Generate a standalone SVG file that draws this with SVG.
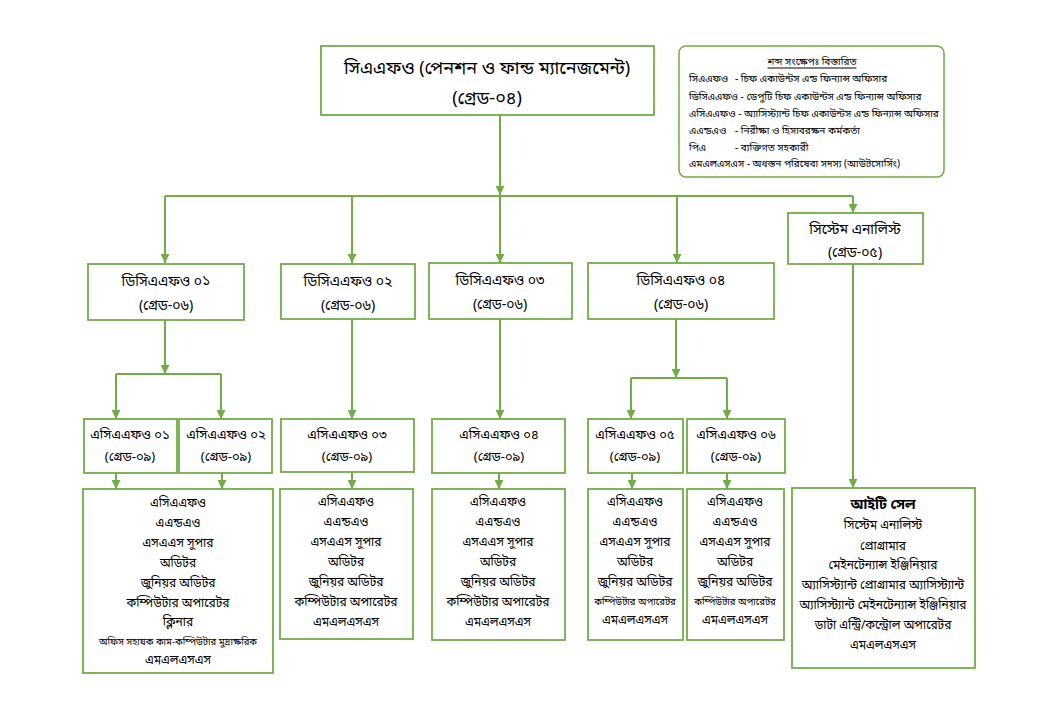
<svg xmlns="http://www.w3.org/2000/svg" width="1045" height="716" viewBox="0 0 1045 716">
<defs>
<marker id="ah" viewBox="0 0 10 10" refX="10" refY="5" markerWidth="9" markerHeight="9" markerUnits="userSpaceOnUse" orient="auto">
<path d="M0,0 L10,5 L0,10 z" fill="#70AD47"/>
</marker>
<style>
.box{fill:#fff;stroke:#70AD47;stroke-width:1.8}
.c{fill:none;stroke:#70AD47;stroke-width:2}
.a{marker-end:url(#ah)}
text{font-family:"Noto Sans Bengali","Noto Serif Bengali","Lohit Bengali","Mukti","Vrinda",sans-serif;fill:#000;text-anchor:middle;dominant-baseline:central}
.t1{font-size:18px}
.t2{font-size:14px}
.t3{font-size:13px}
.t4{font-size:12px}
.sm{font-size:9.5px}
.lg{font-size:10px;text-anchor:start}
.b{font-weight:bold;font-size:14px}
</style>
</defs>
<rect width="1045" height="716" fill="#fff"/>
<g id="connectors">
<path class="c a" d="M500,115 V195"/>
<path class="c" d="M165,196 H853"/>
<path class="c a" d="M165,196 V263"/>
<path class="c a" d="M352,196 V263"/>
<path class="c a" d="M500,196 V263"/>
<path class="c a" d="M677,196 V263"/>
<path class="c a" d="M853,196 V213"/>
<path class="c a" d="M165,320 V374"/>
<path class="c" d="M116,374 H221"/>
<path class="c a" d="M116,374 V419"/>
<path class="c a" d="M221,374 V419"/>
<path class="c a" d="M352,319 V419"/>
<path class="c a" d="M500,319 V419"/>
<path class="c a" d="M676,319 V378"/>
<path class="c" d="M631,378 H727"/>
<path class="c a" d="M631,378 V419"/>
<path class="c a" d="M727,378 V419"/>
<path class="c a" d="M853,264 V488"/>
<path class="c a" d="M116,473 V489"/>
<path class="c a" d="M222,473 V489"/>
<path class="c a" d="M352,472 V489"/>
<path class="c a" d="M499,473 V489"/>
<path class="c a" d="M632,473 V489"/>
<path class="c a" d="M727,473 V489"/>
</g>
<g id="cafo">
<rect class="box" x="321" y="46" width="333" height="69"/>
<text class="t1" x="487" y="69">সিএএফও (পেনশন ও ফান্ড ম্যানেজমেন্ট)</text>
<text class="t1" x="487" y="99">(গ্রেড-০৪)</text>
</g>
<g id="legend">
<rect x="679" y="46" width="265" height="131" rx="7" fill="#fff" stroke="#70AD47" stroke-width="1.5"/>
<text class="lg" x="812" y="62" style="text-anchor:middle;text-decoration:underline">শব্দ সংক্ষেপঃ বিস্তারিত</text>
<text class="lg" x="689" y="79">সিএএফও</text>
<text class="lg" x="735" y="79">- চিফ একাউন্টস এন্ড ফিন্যান্স অফিসার</text>
<text class="lg" x="689" y="97">ডিসিএএফও - ডেপুটি চিফ একাউন্টস এন্ড ফিন্যান্স অফিসার</text>
<text class="lg" x="689" y="114">এসিএএফও - অ্যাসিস্ট্যান্ট চিফ একাউন্টস এন্ড ফিন্যান্স অফিসার</text>
<text class="lg" x="689" y="131">এএন্ডএও</text>
<text class="lg" x="735" y="131">- নিরীক্ষা ও হিসাবরক্ষন কর্মকর্তা</text>
<text class="lg" x="689" y="148">পিএ</text>
<text class="lg" x="735" y="148">- ব্যক্তিগত সহকারী</text>
<text class="lg" x="689" y="164">এমএলএসএস - অধস্তন পরিষেবা সদস্য (আউটসোর্সিং)</text>
</g>
<g id="dcfo1">
<rect class="box" x="88" y="264" width="156" height="56"/>
<text class="t2" x="166" y="282">ডিসিএএফও ০১</text>
<text class="t2" x="166" y="306">(গ্রেড-০৬)</text>
</g>
<g id="dcfo2">
<rect class="box" x="281" y="264" width="134" height="55"/>
<text class="t2" x="348" y="282">ডিসিএএফও ০২</text>
<text class="t2" x="348" y="306">(গ্রেড-০৬)</text>
</g>
<g id="dcfo3">
<rect class="box" x="429" y="263" width="143" height="56"/>
<text class="t2" x="500" y="281">ডিসিএএফও ০৩</text>
<text class="t2" x="500" y="305">(গ্রেড-০৬)</text>
</g>
<g id="dcfo4">
<rect class="box" x="588" y="263" width="186" height="56"/>
<text class="t2" x="681" y="281">ডিসিএএফও ০৪</text>
<text class="t2" x="681" y="305">(গ্রেড-০৬)</text>
</g>
<g id="sysanalyst">
<rect class="box" x="788" y="213" width="135" height="51"/>
<text class="t2" x="855" y="230">সিস্টেম এনালিস্ট</text>
<text class="t2" x="855" y="253">(গ্রেড-০৫)</text>
</g>
<g id="acfo1">
<rect class="box" x="84" y="419" width="93" height="54"/>
<text class="t3" x="130" y="435">এসিএএফও ০১</text>
<text class="t3" x="130" y="457">(গ্রেড-০৯)</text>
</g>
<g id="acfo2">
<rect class="box" x="179" y="419" width="93" height="54"/>
<text class="t3" x="226" y="435">এসিএএফও ০২</text>
<text class="t3" x="226" y="457">(গ্রেড-০৯)</text>
</g>
<g id="acfo3">
<rect class="box" x="281" y="419" width="133" height="53"/>
<text class="t3" x="347" y="435">এসিএএফও ০৩</text>
<text class="t3" x="347" y="457">(গ্রেড-০৯)</text>
</g>
<g id="acfo4">
<rect class="box" x="432" y="419" width="133" height="54"/>
<text class="t3" x="499" y="435">এসিএএফও ০৪</text>
<text class="t3" x="499" y="457">(গ্রেড-০৯)</text>
</g>
<g id="acfo5">
<rect class="box" x="588" y="419" width="95" height="54"/>
<text class="t3" x="635" y="435">এসিএএফও ০৫</text>
<text class="t3" x="635" y="457">(গ্রেড-০৯)</text>
</g>
<g id="acfo6">
<rect class="box" x="687" y="419" width="98" height="54"/>
<text class="t3" x="736" y="435">এসিএএফও ০৬</text>
<text class="t3" x="736" y="457">(গ্রেড-০৯)</text>
</g>
<g id="staff1">
<rect class="box" x="83" y="489" width="190" height="184"/>
<text class="t4" x="178" y="504">এসিএএফও</text>
<text class="t4" x="178" y="524">এএন্ডএও</text>
<text class="t4" x="178" y="544">এসএএস সুপার</text>
<text class="t4" x="178" y="564">অডিটর</text>
<text class="t4" x="178" y="584">জুনিয়র অডিটর</text>
<text class="t4" x="178" y="604">কম্পিউটার অপারেটর</text>
<text class="t4" x="178" y="623">ক্লিনার</text>
<text class="sm" x="178" y="642">অফিস সহায়ক কাম-কম্পিউটার মুদ্রাক্ষরিক</text>
<text class="t4" x="178" y="661">এমএলএসএস</text>
</g>
<g id="staff3">
<rect class="box" x="280" y="489" width="133" height="150"/>
<text class="t4" x="346" y="503">এসিএএফও</text>
<text class="t4" x="346" y="523">এএন্ডএও</text>
<text class="t4" x="346" y="543">এসএএস সুপার</text>
<text class="t4" x="346" y="563">অডিটর</text>
<text class="t4" x="346" y="583">জুনিয়র অডিটর</text>
<text class="t4" x="346" y="603">কম্পিউটার অপারেটর</text>
<text class="t4" x="346" y="623">এমএলএসএস</text>
</g>
<g id="staff4">
<rect class="box" x="432" y="489" width="133" height="151"/>
<text class="t4" x="498" y="503">এসিএএফও</text>
<text class="t4" x="498" y="523">এএন্ডএও</text>
<text class="t4" x="498" y="543">এসএএস সুপার</text>
<text class="t4" x="498" y="563">অডিটর</text>
<text class="t4" x="498" y="583">জুনিয়র অডিটর</text>
<text class="t4" x="498" y="603">কম্পিউটার অপারেটর</text>
<text class="t4" x="498" y="623">এমএলএসএস</text>
</g>
<g id="staff5">
<rect class="box" x="588" y="489" width="95" height="151"/>
<text class="t4" x="635" y="503">এসিএএফও</text>
<text class="t4" x="635" y="523">এএন্ডএও</text>
<text class="t4" x="635" y="543">এসএএস সুপার</text>
<text class="t4" x="635" y="563">অডিটর</text>
<text class="t4" x="635" y="583">জুনিয়র অডিটর</text>
<text class="sm" x="635" y="602">কম্পিউটার অপারেটর</text>
<text class="t4" x="635" y="621">এমএলএসএস</text>
</g>
<g id="staff6">
<rect class="box" x="687" y="489" width="97" height="151"/>
<text class="t4" x="735" y="503">এসিএএফও</text>
<text class="t4" x="735" y="523">এএন্ডএও</text>
<text class="t4" x="735" y="543">এসএএস সুপার</text>
<text class="t4" x="735" y="563">অডিটর</text>
<text class="t4" x="735" y="583">জুনিয়র অডিটর</text>
<text class="sm" x="735" y="602">কম্পিউটার অপারেটর</text>
<text class="t4" x="735" y="621">এমএলএসএস</text>
</g>
<g id="itcell">
<rect class="box" x="792" y="488" width="183" height="180"/>
<text class="b" x="883" y="505">আইটি সেল</text>
<text class="t4" x="883" y="526">সিস্টেম এনালিস্ট</text>
<text class="t4" x="883" y="547">প্রোগ্রামার</text>
<text class="t4" x="883" y="566">মেইনটেন্যান্স ইঞ্জিনিয়ার</text>
<text class="t4" x="883" y="586">অ্যাসিস্ট্যান্ট প্রোগ্রামার অ্যাসিস্ট্যান্ট</text>
<text class="t4" x="883" y="606">অ্যাসিস্ট্যান্ট মেইনটেন্যান্স ইঞ্জিনিয়ার</text>
<text class="t4" x="883" y="626">ডাটা এন্ট্রি/কন্ট্রোল অপারেটর</text>
<text class="t4" x="883" y="646">এমএলএসএস</text>
</g>
</svg>
